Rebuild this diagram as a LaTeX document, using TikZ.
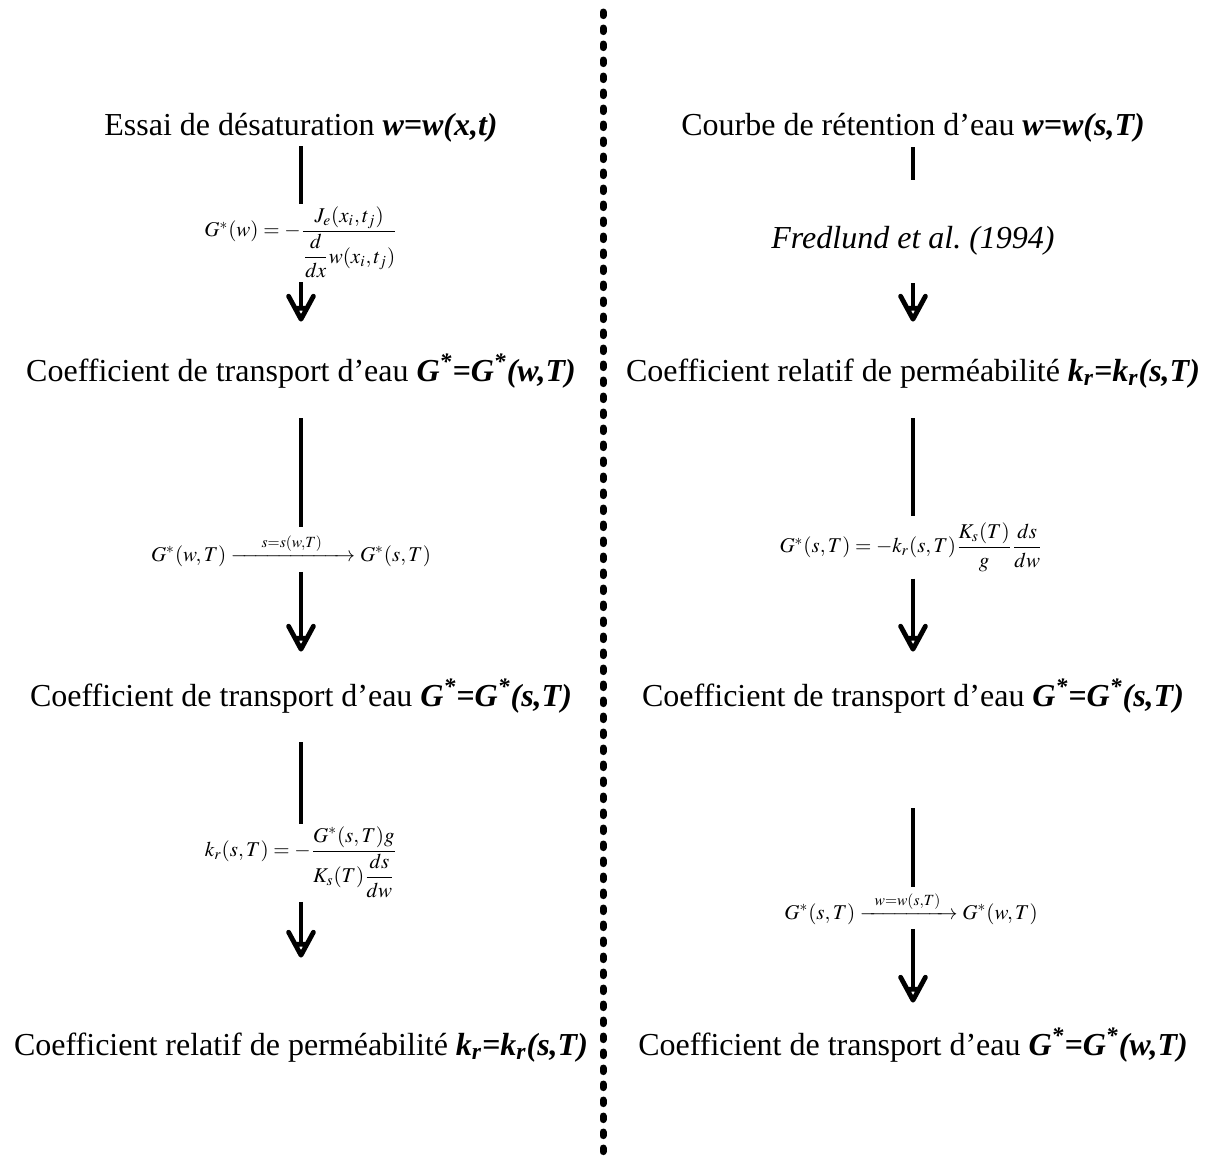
\documentclass[tikz,border=0pt]{standalone}
\usepackage{amsmath}
\usepackage{mathptmx}
\usepackage{fontspec}
\setmainfont{Liberation Serif}
\usetikzlibrary{arrows.meta,calc}

\newcommand{\bfit}[1]{\textbf{\textit{#1}}}

% pointe ouverte en Y
\pgfdeclarearrow{
  name=PointeY,
  parameters={\the\pgflinewidth},
  setup code={
    \pgfarrowssettipend{.5\pgflinewidth}
    \pgfarrowssetlineend{-5.5pt}
    \pgfarrowssetbackend{-11.5pt}
    \pgfarrowshullpoint{0pt}{0pt}
    \pgfarrowshullpoint{-11.5pt}{6.2pt}
    \pgfarrowshullpoint{-11.5pt}{-6.2pt}
  },
  drawing code={
    \pgfsetroundjoin\pgfsetroundcap
    \pgfpathmoveto{\pgfqpoint{-11.5pt}{6.2pt}}
    \pgfpathlineto{\pgfqpoint{0pt}{0pt}}
    \pgfpathlineto{\pgfqpoint{-11.5pt}{-6.2pt}}
    \pgfpathmoveto{\pgfqpoint{-5.5pt}{3pt}}
    \pgfpathlineto{\pgfqpoint{-5.5pt}{-3pt}}
    \pgfusepathqstroke
  }
}

\tikzset{
  titre/.style={anchor=base,inner sep=0pt,text height=11pt,text depth=4pt,font=\fontsize{16}{19}\selectfont},
  formule/.style={inner sep=0pt,font=\fontsize{10.5}{12.5}\selectfont},
  tige/.style={line width=2.4pt},
  fleche/.style={line width=2.4pt,-PointeY},
  pointille/.style={line width=3.5pt,line cap=round,dash pattern=on 1.8pt off 6.2pt},
}

\begin{document}
\begin{tikzpicture}[x=0.5pt,y=-0.5pt]
\useasboundingbox (0,0) rectangle (1213,1162);
% separation
\coordinate (haut) at (603,12);
\coordinate (bas) at (603,1158);
\draw[pointille] (haut) -- (bas);
% colonne de gauche
\node[titre] (g1) at (301,135) {Essai de désaturation \bfit{w=w(x,t)}};
\node[formule] (ge1) at (301,242) {$G^{*}(w)=-\dfrac{J_{e}(x_{i},t_{j})}{\dfrac{d}{dx}w(x_{i},t_{j})}$};
\node[titre] (g2) at (301,381) {Coefficient de transport d'eau \bfit{G\textsuperscript{*}=G\textsuperscript{*}(w,T)}};
\node[formule] (ge2) at (291,550) {$G^{*}(w,T)\xrightarrow{\hspace{13pt}s=s(w,T)\hspace{13pt}}G^{*}(s,T)$};
\node[titre] (g3) at (301,706) {Coefficient de transport d'eau \bfit{G\textsuperscript{*}=G\textsuperscript{*}(s,T)}};
\node[formule] (ge3) at (301,862) {$k_{r}(s,T)=-\dfrac{G^{*}(s,T)g}{K_{s}(T)\dfrac{ds}{dw}}$};
\node[titre] (g4) at (301,1055) {Coefficient relatif de perméabilité \bfit{k\textsubscript{r}=k\textsubscript{r}(s,T)}};
% colonne de droite
\node[titre] (d1) at (913,135) {Courbe de rétention d'eau \bfit{w=w(s,T)}};
\node[titre] (de1) at (913,248) {\textit{Fredlund et al.\ (1994)}};
\node[titre] (d2) at (913,381) {Coefficient relatif de perméabilité \bfit{k\textsubscript{r}=k\textsubscript{r}(s,T)}};
\node[formule] (de2) at (911,547) {$G^{*}(s,T)=-k_{r}(s,T)\dfrac{K_{s}(T)}{g}\dfrac{ds}{dw}$};
\node[titre] (d3) at (913,706) {Coefficient de transport d'eau \bfit{G\textsuperscript{*}=G\textsuperscript{*}(s,T)}};
\node[formule] (de3) at (911,908) {$G^{*}(s,T)\xrightarrow{\hspace{5pt}w=w(s,T)\hspace{5pt}}G^{*}(w,T)$};
\node[titre] (d4) at (913,1055) {Coefficient de transport d'eau \bfit{G\textsuperscript{*}=G\textsuperscript{*}(w,T)}};
% liaisons gauche
\draw[tige,shorten <=1.5pt,shorten >=1pt] (g1) -- (ge1);
\draw[fleche,shorten <=2pt,shorten >=18.5pt] (ge1) -- (g2);
\draw[tige,shorten <=14.5pt,shorten >=3pt] (g2) -- (g2 |- ge2.north);
\draw[fleche,shorten <=2.5pt,shorten >=16pt] (g2 |- ge2.south) -- (g3);
\draw[tige,shorten <=14pt,shorten >=1pt] (g3) -- (ge3);
\draw[fleche,shorten <=2pt,shorten >=37.5pt] (ge3) -- (g4);
% liaisons droite
\draw[tige,shorten <=2pt,shorten >=23pt] (d1) -- (de1);
\draw[fleche,shorten <=13.5pt,shorten >=18.5pt] (de1) -- (d2);
\draw[tige,shorten <=14.5pt,shorten >=3pt] (d2) -- (d2 |- de2.north);
\draw[fleche,shorten <=3.5pt,shorten >=16pt] (d2 |- de2.south) -- (d3);
\draw[tige,shorten <=47pt,shorten >=2pt] (d3) -- (d3 |- de3.north);
\draw[fleche,shorten <=2pt,shorten >=15pt] (d3 |- de3.south) -- (d4);
\end{tikzpicture}
\end{document}
